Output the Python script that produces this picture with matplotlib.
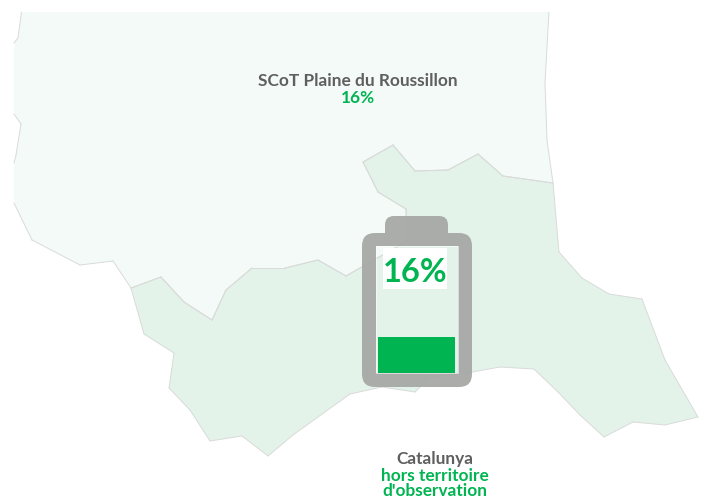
#!/usr/bin/env python3
"""Battery gauge over the SCoT Plaine du Roussillon map"""

import numpy as np
import matplotlib
matplotlib.use('Agg')
import matplotlib.pyplot as plt
from matplotlib.patches import FancyBboxPatch, PathPatch, Rectangle
from matplotlib.path import Path

plt.rcParams['font.family'] = ['Lato', 'DejaVu Sans']

# map outlines
scot_x = [21.5, 18, 14, 14, 21, 16, 14, 14, 32, 80, 113, 131, 161, 184, 212, 226, 252, 285, 318, 346,
          395, 407, 406, 378, 363, 393, 415, 448, 478, 503, 553, 547, 545, 549]
scot_y = [12, 38, 43, 114, 124, 155, 163, 203, 240, 265, 261, 288, 277, 302, 320, 290, 268, 268, 260, 276,
          248, 240, 209, 192, 162, 145, 171, 170, 154, 176, 183, 140, 83, 12]

catalunya_x = [131, 161, 184, 212, 226, 252, 285, 318, 346, 395, 407, 406, 378, 363, 393, 415, 448, 478, 503,
               553, 559, 582, 609, 642, 665, 698, 665, 633, 604, 580, 558, 534, 500, 467, 430, 415, 382, 350,
               293, 268, 242, 210, 190, 169, 174, 144]
catalunya_y = [288, 277, 302, 320, 290, 268, 268, 260, 276, 248, 240, 209, 192, 162, 145, 171, 170, 154, 176,
               183, 252, 278, 294, 299, 360, 417, 425, 422, 437, 415, 392, 369, 367, 373, 377, 392, 387, 394,
               435, 456, 436, 441, 410, 388, 353, 334]

# gauge
percent = 16
scot_name = "SCoT Plaine du Roussillon"
catalunya_lines = ["hors territoire", "d'observation"]

GREEN = '#00B451'
GREY = '#A7A8A6'
TEXT_GREY = '#5F5F5F'
LINE = '#D9DBD9'


def draw_region(ax, xs, ys, fill):
    ax.fill(xs, ys, color=fill, lw=0, zorder=1)
    xs_closed = np.r_[xs, xs[0]]
    ys_closed = np.r_[ys, ys[0]]
    # crop edges of the picture have no outline
    for i in range(len(xs)):
        if xs_closed[i] == xs_closed[i + 1] == 14 or ys_closed[i] == ys_closed[i + 1] == 12:
            continue
        ax.plot(xs_closed[i:i + 2], ys_closed[i:i + 2], color=LINE, lw=0.7, zorder=2,
                solid_capstyle='round')


def rounded(x0, y0, x1, y1, r):
    box = FancyBboxPatch((x0 + r, y0 + r), x1 - x0 - 2 * r, y1 - y0 - 2 * r,
                         boxstyle=f'round,pad={r},rounding_size={r}')
    return box.get_path()


fig = plt.figure(figsize=(7.07, 5.01), dpi=100)
ax = fig.add_axes([0, 0, 1, 1])
ax.set_xlim(0, 707)
ax.set_ylim(501, 0)
ax.axis('off')

draw_region(ax, scot_x, scot_y, '#F3FAF7')
draw_region(ax, catalunya_x, catalunya_y, '#E3F3EA')

# battery body with a hole; single path so the overlap with the cap is not doubled
body = rounded(362, 233, 472, 387, 13)
cap = rounded(385, 216, 448, 244, 9)
hole = Path([(376, 246), (376, 373), (458, 373), (458, 246), (376, 246)], closed=True)
shell = Path.make_compound_path(body, cap, hole)
ax.add_patch(PathPatch(shell, facecolor=GREY, edgecolor='none', alpha=0.94, zorder=3))
ax.add_patch(Rectangle((376, 246), 82, 127, facecolor='none', edgecolor='white', lw=0.5, alpha=0.8, zorder=4))

ax.add_patch(Rectangle((378, 337), 77, 36, facecolor=GREEN, edgecolor='none', zorder=5))
ax.add_patch(Rectangle((383, 248), 64, 41, facecolor='white', edgecolor='none', zorder=5))
ax.text(415, 273, f"{percent}%", color=GREEN, fontsize=23.5, fontweight='bold', ha='center', va='center', zorder=6)

ax.text(358, 81, scot_name, color=TEXT_GREY, fontsize=12.4, fontweight='bold', ha='center', va='center', zorder=6)
ax.text(358, 98, f"{percent}%", color=GREEN, fontsize=12.4, fontweight='bold', ha='center', va='center', zorder=6)
ax.text(435, 459, "Catalunya", color=TEXT_GREY, fontsize=12.4, fontweight='bold', ha='center', va='center', zorder=6)
ax.text(435, 476, catalunya_lines[0], color=GREEN, fontsize=12.4, fontweight='bold', ha='center', va='center', zorder=6)
ax.text(435, 491.5, catalunya_lines[1], color=GREEN, fontsize=12.4, fontweight='bold', ha='center', va='center', zorder=6)

plt.savefig('out.png', dpi=100)
